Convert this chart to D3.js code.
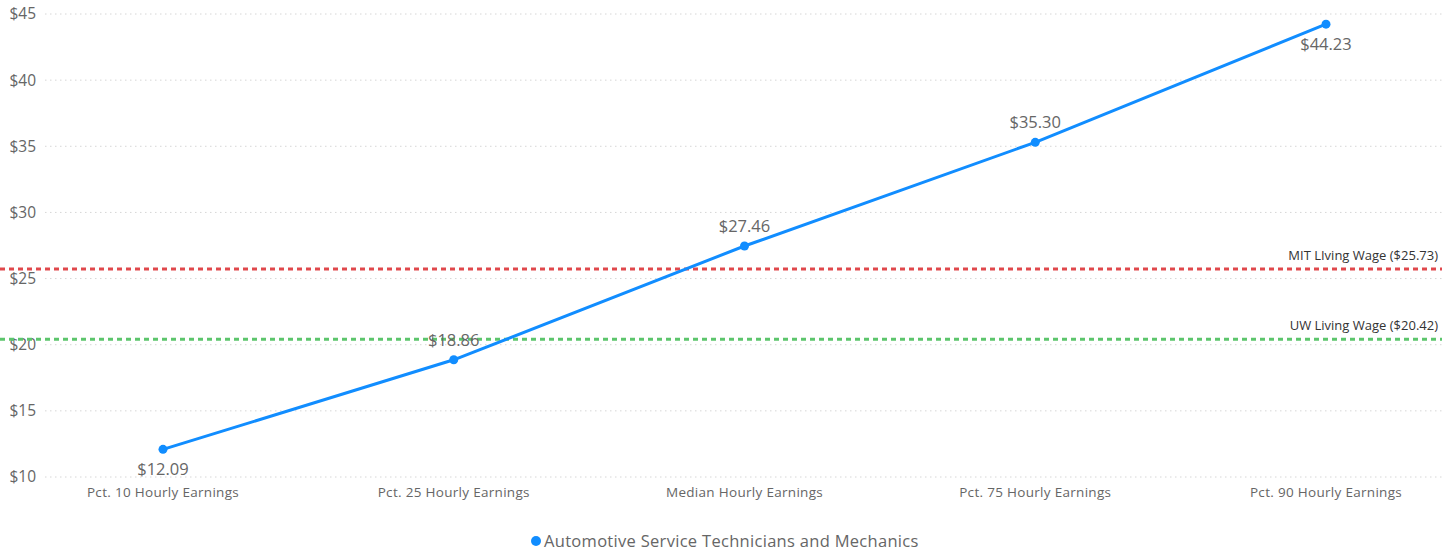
<!DOCTYPE html>
<html lang="en">
<head>
  <meta charset="UTF-8">
  <title>Hourly Earnings</title>
  <style>
    body { margin: 0; background: #fff; }
    text { font-family: "Open Sans", "Noto Sans", sans-serif; }
  </style>
</head>
<body>
  <div id="chart"></div>

  <script src="https://d3js.org/d3.v7.min.js"></script>
  <script>

    const categories = ["Pct. 10 Hourly Earnings", "Pct. 25 Hourly Earnings", "Median Hourly Earnings",
                        "Pct. 75 Hourly Earnings", "Pct. 90 Hourly Earnings"];
    const earnings = [12.09, 18.86, 27.46, 35.30, 44.23];
    const yTicks = [10, 15, 20, 25, 30, 35, 40, 45];
    const refLines = [
      {label: "MIT LIving Wage ($25.73)", value: 25.73, color: "#e0484c"},
      {label: "UW Living Wage ($20.42)", value: 20.42, color: "#5cc56c"}
    ];
    const seriesName = "Automotive Service Technicians and Mechanics";
    // label above (-1) or below (1) the point
    const labelSide = [1, -1, -1, -1, 1];

    const width = 1455,
          height = 555,
          margin = {top: 14, right: 12, bottom: 78, left: 45};

    const svg = d3.select("#chart")
      .append("svg")
      .attr("width", width)
      .attr("height", height);

    const x = d3.scalePoint(categories, [163, 1326]);
    const y = d3.scaleLinear([10, 45], [height - margin.bottom, margin.top]);

    // grid + y labels
    svg.append("g")
      .selectAll("line")
      .data(yTicks)
      .join("line")
      .attr("x1", margin.left)
      .attr("x2", width - margin.right)
      .attr("y1", d => y(d))
      .attr("y2", d => y(d))
      .attr("stroke", "#d6d6d6")
      .attr("stroke-dasharray", "1.5,3.5");

    svg.append("g")
      .selectAll("text")
      .data(yTicks)
      .join("text")
      .attr("x", 36)
      .attr("y", d => y(d))
      .attr("dy", "0.35em")
      .attr("text-anchor", "end")
      .attr("font-size", 15.5)
      .attr("fill", "#666")
      .text(d => "$" + d);

    // x labels
    svg.append("g")
      .selectAll("text")
      .data(categories)
      .join("text")
      .attr("x", d => x(d))
      .attr("y", height - margin.bottom + 20)
      .attr("text-anchor", "middle")
      .attr("font-size", 13.5)
      .attr("letter-spacing", 0.3)
      .attr("fill", "#666")
      .text(d => d);

    // reference lines
    const ref = svg.append("g")
      .selectAll("g")
      .data(refLines)
      .join("g");

    ref.append("line")
      .attr("x1", 0)
      .attr("x2", width - 13)
      .attr("y1", d => y(d.value))
      .attr("y2", d => y(d.value))
      .attr("stroke", d => d.color)
      .attr("stroke-width", 3)
      .attr("stroke-dasharray", "5,4");

    ref.append("text")
      .attr("x", width - 17)
      .attr("y", d => y(d.value) - 9)
      .attr("text-anchor", "end")
      .attr("font-size", 13)
      .attr("fill", "#333")
      .text(d => d.label);

    // series
    const line = d3.line()
      .x((d, i) => x(categories[i]))
      .y(d => y(d));

    svg.append("path")
      .datum(earnings)
      .attr("fill", "none")
      .attr("stroke", "#118dff")
      .attr("stroke-width", 3)
      .attr("d", line);

    svg.append("g")
      .selectAll("circle")
      .data(earnings)
      .join("circle")
      .attr("cx", (d, i) => x(categories[i]))
      .attr("cy", d => y(d))
      .attr("r", 4.5)
      .attr("fill", "#118dff");

    svg.append("g")
      .selectAll("text")
      .data(earnings)
      .join("text")
      .attr("x", (d, i) => x(categories[i]))
      .attr("y", (d, i) => y(d) + labelSide[i] * 20)
      .attr("dy", "0.35em")
      .attr("text-anchor", "middle")
      .attr("font-size", 16.5)
      .attr("fill", "#666")
      .text(d => "$" + d.toFixed(2));

    // legend
    svg.append("circle")
      .attr("cx", 536)
      .attr("cy", 541)
      .attr("r", 5)
      .attr("fill", "#118dff");

    svg.append("text")
      .attr("x", 544)
      .attr("y", 541)
      .attr("dy", "0.35em")
      .attr("font-size", 16.5)
      .attr("letter-spacing", 0.3)
      .attr("fill", "#666")
      .text(seriesName);

  </script>
</body>
</html>
